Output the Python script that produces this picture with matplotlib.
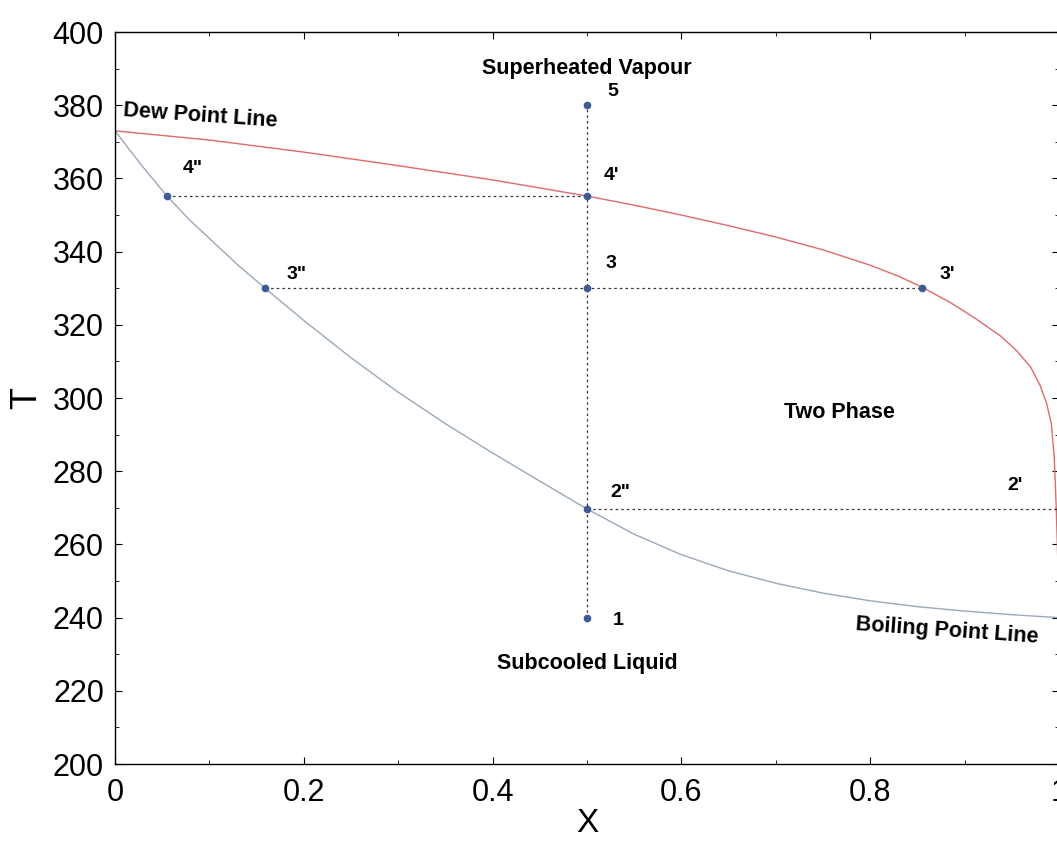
import numpy as np
import matplotlib.pyplot as plt
from matplotlib.ticker import MultipleLocator

plt.rcParams['font.family'] = ['Liberation Sans', 'DejaVu Sans']

# Dew point line (red)
x_dew = [0.0, 0.1, 0.2, 0.3, 0.4, 0.5, 0.55, 0.6, 0.65, 0.7, 0.75, 0.8,
         0.83, 0.855, 0.885, 0.91, 0.938, 0.955, 0.97, 0.98, 0.987, 0.992,
         0.995, 0.996, 0.997, 0.998, 0.999, 1.0]
t_dew = [373, 370.5, 367.2, 363.5, 359.6, 355.2, 352.7, 350.0, 347.1, 344.0,
         340.5, 336.3, 333.3, 330.3, 326.1, 322, 317, 313, 308.5, 303.5,
         298.5, 293, 284, 278, 271, 263, 254, 240]

# Boiling point line (grey-blue)
x_bub = [0.0, 0.0275, 0.055, 0.08, 0.1, 0.13, 0.159, 0.2, 0.25, 0.3, 0.35,
         0.4, 0.45, 0.5, 0.55, 0.6, 0.65, 0.7, 0.75, 0.8, 0.85, 0.9, 0.95,
         1.0]
t_bub = [373, 363.8, 355.2, 348.4, 343.6, 336.4, 330, 321.2, 311.0, 301.6,
         293.0, 285.0, 277.3, 269.7, 262.8, 257.2, 252.8, 249.4, 246.7, 244.6,
         243.0, 241.8, 240.8, 240.0]

# state points
pt_names = ['5', "4'", '4"', '3', '3"', "3'", '2"', '1']
pt_x = [0.5, 0.5, 0.055, 0.5, 0.159, 0.855, 0.5, 0.5]
pt_t = [380, 355.2, 355.2, 330, 330, 330, 269.7, 240]

fig = plt.figure(figsize=(10.57, 8.46), dpi=100)
ax = fig.add_axes([0.1088, 0.0969, 0.893, 0.8652])

ax.plot(x_dew, t_dew, color='#e06a6a', lw=1.0)
ax.plot(x_bub, t_bub, color='#9aa8ba', lw=1.0)

# construction lines
dot = dict(color='#333333', lw=0.9, ls=(0, (2, 2.5)))
ax.plot([0.5, 0.5], [240, 380], **dot)
ax.plot([0.055, 0.5], [355.2, 355.2], **dot)
ax.plot([0.159, 0.855], [330, 330], **dot)
ax.plot([0.5, 1.0], [269.7, 269.7], **dot)

ax.plot(pt_x, pt_t, 'o', color='#3c5a96', ms=4.5, zorder=5)

# point labels
lab = dict(fontsize=14, fontweight='bold')
ax.text(0.522, 382.5, '5', **lab)
ax.text(0.518, 359.5, "4'", **lab)
ax.text(0.072, 361.5, '4"', **lab)
ax.text(0.52, 335.5, '3', **lab)
ax.text(0.182, 332.5, '3"', **lab)
ax.text(0.873, 332.5, "3'", **lab)
ax.text(0.525, 273, '2"', **lab)
ax.text(0.945, 275, "2'", **lab)
ax.text(0.527, 238, '1', **lab)

# region labels
reg = dict(fontsize=15.5, fontweight='bold')
ax.text(0.5, 390, 'Superheated Vapour', ha='center', va='center', **reg)
ax.text(0.008, 377, 'Dew Point Line', ha='left', va='center', rotation=-4, **reg)
ax.text(0.768, 296, 'Two Phase', ha='center', va='center', **reg)
ax.text(0.5, 227.5, 'Subcooled Liquid', ha='center', va='center', **reg)
ax.text(0.882, 236.5, 'Boiling Point Line', ha='center', va='center', rotation=-4, **reg)

ax.set_xlim(0, 1)
ax.set_ylim(200, 400)
ax.xaxis.set_minor_locator(MultipleLocator(0.1))
ax.yaxis.set_major_locator(MultipleLocator(20))
ax.yaxis.set_minor_locator(MultipleLocator(10))
ax.set_xticks([0, 0.2, 0.4, 0.6, 0.8, 1.0])
ax.set_xticklabels(['0', '0.2', '0.4', '0.6', '0.8', '1'])
ax.tick_params(which='both', direction='in', top=True, right=True, labelsize=22)
ax.tick_params(axis='x', pad=10)
ax.tick_params(axis='y', pad=8)
ax.tick_params(which='major', length=5)
ax.tick_params(which='minor', length=3)
for s in ax.spines.values():
    s.set_linewidth(1.0)

ax.set_xlabel('X', fontsize=24, labelpad=0)
ax.set_ylabel('T', fontsize=26, labelpad=6)

fig.savefig('out.png', dpi=100)
